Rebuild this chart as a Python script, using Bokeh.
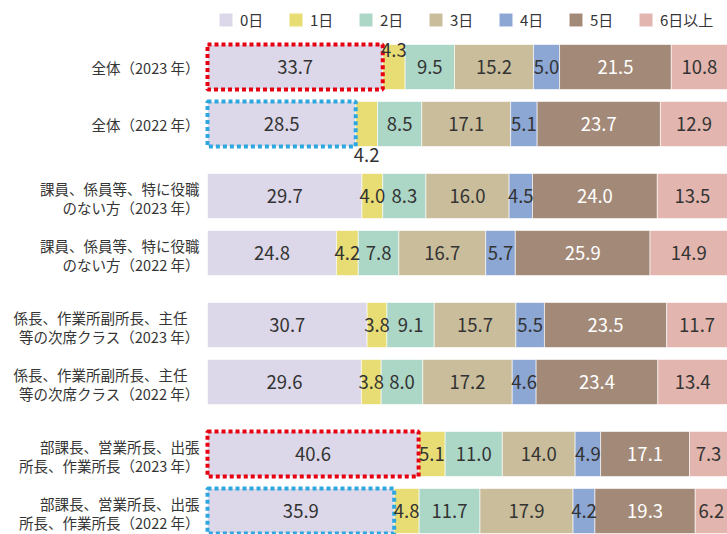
from bokeh.plotting import figure
from bokeh.models import ColumnDataSource, Range1d, Legend, LegendItem, LabelSet
from bokeh.embed import file_html
from bokeh.resources import INLINE
from bokeh.core.properties import value

categories = [
    "全体（2023 年）",
    "全体（2022 年）",
    "課員、係員等、特に役職\nのない方（2023 年）",
    "課員、係員等、特に役職\nのない方（2022 年）",
    "係長、作業所副所長、主任\n等の次席クラス（2023 年）",
    "係長、作業所副所長、主任\n等の次席クラス（2022 年）",
    "部課長、営業所長、出張\n所長、作業所長（2023 年）",
    "部課長、営業所長、出張\n所長、作業所長（2022 年）",
]
series = ["0日", "1日", "2日", "3日", "4日", "5日", "6日以上"]
d0 = [33.7, 28.5, 29.7, 24.8, 30.7, 29.6, 40.6, 35.9]
d1 = [4.3, 4.2, 4.0, 4.2, 3.8, 3.8, 5.1, 4.8]
d2 = [9.5, 8.5, 8.3, 7.8, 9.1, 8.0, 11.0, 11.7]
d3 = [15.2, 17.1, 16.0, 16.7, 15.7, 17.2, 14.0, 17.9]
d4 = [5.0, 5.1, 4.5, 5.7, 5.5, 4.6, 4.9, 4.2]
d5 = [21.5, 23.7, 24.0, 25.9, 23.5, 23.4, 17.1, 19.3]
d6 = [10.8, 12.9, 13.5, 14.9, 11.7, 13.4, 7.3, 6.2]
values = [d0, d1, d2, d3, d4, d5, d6]

colors = ["#dcd8e9", "#e8dd75", "#acd7c7", "#c9bd9b", "#8ca7d3", "#a38a78", "#e2b6ae"]
label_colors = ["#333333"] * 5 + ["#ffffff"] + ["#333333"]
# rows highlighted with dotted frame around the 0日 segment
highlight_rows = [0, 1, 6, 7]
highlight_colors = ["#e60012", "#2ea7e0", "#e60012", "#2ea7e0"]
# special label offsets (row, series) -> pixel offset (positive = up)
label_shift = {(0, 1): 17, (1, 1): -31}
# extra horizontal shift for some category label lines (row, line) -> px
cat_line_shift = {(4, 0): -12, (5, 0): -12}

FONT = "Noto Sans CJK JP"
n = len(categories)
ypos = [i * 57 + (i // 2) * 15 for i in range(n)]
BAR_H = 45

p = figure(width=727, height=534, output_backend="svg", toolbar_location=None,
           x_range=Range1d(-207 / 5.2, 100), y_range=Range1d(467.5, -66.5),
           x_axis_location=None, y_axis_location=None,
           min_border_left=0, min_border_right=0, min_border_top=0, min_border_bottom=0)
p.xgrid.visible = False
p.ygrid.visible = False
p.outline_line_color = None
p.background_fill_color = None
p.border_fill_color = None

items = []
cum = [0.0] * n
lab_x, lab_y, lab_t, lab_c, lab_dy = [], [], [], [], []
for s, (name, vals) in enumerate(zip(series, values)):
    left = cum[:]
    right = [l + v for l, v in zip(left, vals)]
    src = ColumnDataSource(dict(y=ypos, left=left, right=right))
    r = p.hbar(y="y", left="left", right="right", height=BAR_H, source=src,
               fill_color=colors[s], line_color="white", line_width=0.6)
    items.append(LegendItem(label=name, renderers=[r]))
    for i in range(n):
        lab_x.append((left[i] + right[i]) / 2)
        lab_y.append(ypos[i])
        lab_t.append(f"{vals[i]:.1f}")
        lab_c.append(label_colors[s])
        lab_dy.append(label_shift.get((i, s), 0))
    cum = right

# dotted highlight frames
hs = ColumnDataSource(dict(
    left=[0.0] * len(highlight_rows),
    right=[d0[i] for i in highlight_rows],
    top=[ypos[i] - BAR_H / 2 for i in highlight_rows],
    bottom=[ypos[i] + BAR_H / 2 for i in highlight_rows],
    c=highlight_colors))
p.quad(left="left", right="right", top="top", bottom="bottom", source=hs,
       fill_alpha=0, line_color="c", line_width=4, line_dash="4 3", line_cap="butt")

lsrc = ColumnDataSource(dict(x=lab_x, y=lab_y, t=lab_t, c=lab_c, dy=lab_dy))
p.add_layout(LabelSet(x="x", y="y", text="t", source=lsrc, text_color="c",
                      y_offset="dy", text_align="center", text_baseline="middle",
                      text_font=value(FONT), text_font_size="18.5px"))

# category labels: each line right-aligned
cx, cy, ct, cdx, cdy = [], [], [], [], []
for i, cat in enumerate(categories):
    lines = cat.split("\n")
    offs = [0] if len(lines) == 1 else [8, -11]
    for k, (line, o) in enumerate(zip(lines, offs)):
        cx.append(0)
        cy.append(ypos[i])
        ct.append(line)
        cdx.append(-8 + cat_line_shift.get((i, k), 0))
        cdy.append(o)
csrc = ColumnDataSource(dict(x=cx, y=cy, t=ct, dx=cdx, dy=cdy))
p.add_layout(LabelSet(x="x", y="y", text="t", source=csrc, x_offset="dx", y_offset="dy",
                      text_align="right", text_baseline="middle",
                      text_font=value(FONT), text_font_size="14.5px",
                      text_color="#353535"))

legend = Legend(items=items, orientation="horizontal", location=(217, 504),
                glyph_width=17, glyph_height=17, label_standoff=6, spacing=17,
                label_width=30, padding=0, margin=0, border_line_color=None,
                background_fill_alpha=0, label_text_font=FONT,
                label_text_font_size="15px", label_text_color="#353535")
p.add_layout(legend)

open("out.html", "w").write(file_html(p, INLINE))
